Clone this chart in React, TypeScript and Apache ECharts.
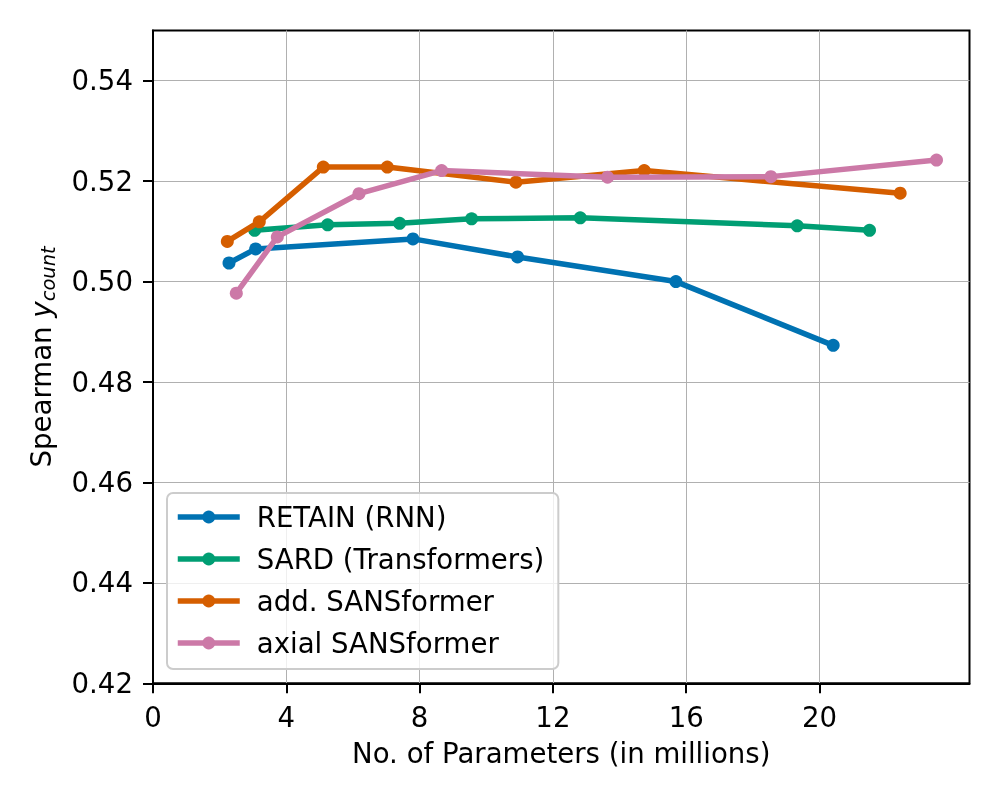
import React, { useEffect, useRef } from "react";
import * as echarts from "echarts";

const seriesNames = ["RETAIN (RNN)", "SARD (Transformers)", "add. SANSformer", "axial SANSformer"];
const colors = ["#0072B2", "#009E73", "#D55E00", "#CC79A7"];

const retainX = [2.28, 3.08, 7.8, 10.94, 15.69, 20.41];
const retainY = [0.5037, 0.5065, 0.5085, 0.5049, 0.5, 0.4873];
const sardX = [3.05, 5.24, 7.4, 9.56, 12.82, 19.33, 21.5];
const sardY = [0.5102, 0.5113, 0.5116, 0.5125, 0.5127, 0.5111, 0.5102];
const addX = [2.23, 3.19, 5.11, 7.03, 10.89, 14.74, 22.42];
const addY = [0.508, 0.5119, 0.5228, 0.5228, 0.5198, 0.5221, 0.5176];
const axialX = [2.5, 3.73, 6.18, 8.66, 13.64, 18.54, 23.51];
const axialY = [0.4977, 0.5089, 0.5175, 0.5221, 0.5208, 0.5209, 0.5242];

const xTicks = [0, 4, 8, 12, 16, 20];
const yTicks = [0.42, 0.44, 0.46, 0.48, 0.5, 0.52, 0.54];

const FONT = "DejaVu Sans";
const FS = 27.6;

export default function App() {
  const ref = useRef<HTMLDivElement>(null);
  useEffect(() => {
    if (!ref.current) return;
    const chart = echarts.init(ref.current, undefined, { renderer: "svg" });
    const xs = [retainX, sardX, addX, axialX];
    const ys = [retainY, sardY, addY, axialY];
    const series = seriesNames.map((name, i) => ({
      name,
      type: "line",
      data: xs[i].map((x, j) => [x, ys[i][j]]),
      symbol: "circle",
      symbolSize: 13,
      showSymbol: true,
      lineStyle: { color: colors[i], width: 5.5 },
      itemStyle: { color: colors[i] },
      emphasis: { disabled: true },
      z: 3 + i,
    }));
    chart.setOption({
      animation: false,
      textStyle: { fontFamily: FONT },
      grid: {
        left: 153,
        right: 30.5,
        top: 30.5,
        bottom: 116.7,
        show: true,
        borderColor: "#000",
        borderWidth: 2,
        backgroundColor: "transparent",
      },
      legend: {
        orient: "vertical",
        left: 167,
        top: 493,
        padding: [10, 14, 12, 8],
        itemWidth: 62,
        itemHeight: 16,
        itemGap: 14,
        borderColor: "#cccccc",
        borderWidth: 2,
        borderRadius: 6,
        backgroundColor: "rgba(255,255,255,0.8)",
        lineStyle: { width: 5.5 },
        textStyle: { fontFamily: FONT, fontSize: FS, color: "#000", lineHeight: 28, padding: [0, 0, 0, 12] },
        data: seriesNames,
      },
      xAxis: {
        type: "value",
        min: 0,
        max: 24.5,
        name: "No. of Parameters (in millions)",
        nameLocation: "middle",
        nameGap: 56,
        nameTextStyle: { fontFamily: FONT, fontSize: FS, color: "#000" },
        axisLine: { show: true, onZero: false, lineStyle: { color: "#000", width: 2 } },
        axisTick: { show: true, inside: false, length: 10, lineStyle: { color: "#000", width: 2 }, customValues: xTicks },
        axisLabel: { fontFamily: FONT, fontSize: FS, color: "#000", margin: 20, customValues: xTicks, formatter: (v: number) => String(v) },
        splitLine: { show: true, lineStyle: { color: "#b0b0b0", width: 1 } },
      },
      yAxis: {
        type: "value",
        min: 0.42,
        max: 0.55,
        name: "Spearman {it|y}{sub|count}",
        nameLocation: "middle",
        nameGap: 95,
        nameTextStyle: {
          fontFamily: FONT,
          fontSize: FS,
          color: "#000",
          lineHeight: 34,
          rich: {
            it: { fontFamily: FONT, fontSize: FS, fontStyle: "italic", color: "#000", lineHeight: 34 },
            sub: { fontFamily: FONT, fontSize: 19.5, fontStyle: "italic", color: "#000", verticalAlign: "bottom" },
          },
        },
        axisLine: { show: true, onZero: false, lineStyle: { color: "#000", width: 2 } },
        axisTick: { show: true, inside: false, length: 10, lineStyle: { color: "#000", width: 2 }, customValues: yTicks },
        axisLabel: { fontFamily: FONT, fontSize: FS, color: "#000", margin: 20, customValues: yTicks, formatter: (v: number) => v.toFixed(2) },
        splitLine: { show: true, lineStyle: { color: "#b0b0b0", width: 1 } },
      },
      series,
    });
    return () => chart.dispose();
  }, []);
  return <div ref={ref} style={{ position: "fixed", left: 0, top: 0, width: 1000, height: 800 }} />;
}
